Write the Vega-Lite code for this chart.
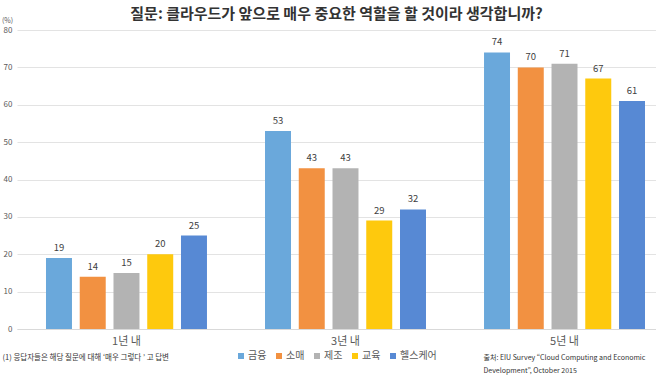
{
  "$schema": "https://vega.github.io/schema/vega-lite/v6.json",
  "width": 639,
  "height": 299,
  "autosize": {"type": "none"},
  "padding": {"left": 17, "top": 30, "right": 0, "bottom": 48},
  "background": "white",
  "config": {
    "font": "Noto Sans CJK KR",
    "view": {"stroke": null}
  },
  "title": {
    "text": "질문: 클라우드가 앞으로 매우 중요한 역할을 할 것이라 생각합니까?",
    "fontSize": 15,
    "fontWeight": "bold",
    "color": "#333333",
    "anchor": "middle",
    "offset": 4,
    "dy": 10
  },
  "data": {
    "values": [
      {"period": "1년 내", "industry": "금융", "value": 19},
      {"period": "1년 내", "industry": "소매", "value": 14},
      {"period": "1년 내", "industry": "제조", "value": 15},
      {"period": "1년 내", "industry": "교육", "value": 20},
      {"period": "1년 내", "industry": "헬스케어", "value": 25},
      {"period": "3년 내", "industry": "금융", "value": 53},
      {"period": "3년 내", "industry": "소매", "value": 43},
      {"period": "3년 내", "industry": "제조", "value": 43},
      {"period": "3년 내", "industry": "교육", "value": 29},
      {"period": "3년 내", "industry": "헬스케어", "value": 32},
      {"period": "5년 내", "industry": "금융", "value": 74},
      {"period": "5년 내", "industry": "소매", "value": 70},
      {"period": "5년 내", "industry": "제조", "value": 71},
      {"period": "5년 내", "industry": "교육", "value": 67},
      {"period": "5년 내", "industry": "헬스케어", "value": 61}
    ]
  },
  "encoding": {
    "y": {
      "field": "value",
      "type": "quantitative",
      "scale": {"domain": [0, 80], "nice": false},
      "axis": {
        "values": [0, 10, 20, 30, 40, 50, 60, 70, 80],
        "labelOverlap": false,
        "labelFontSize": 8,
        "labelColor": "#595959",
        "labelPadding": 5,
        "ticks": false,
        "domain": false,
        "gridColor": "#e3e3e3",
        "title": "(%)",
        "titleAngle": 0,
        "titleFontSize": 7,
        "titleFontWeight": "normal",
        "titleColor": "#595959",
        "titleAlign": "center",
        "titleBaseline": "middle",
        "titleX": -10,
        "titleY": -10
      }
    },
    "xOffset": {
      "field": "industry",
      "type": "nominal",
      "sort": ["금융", "소매", "제조", "교육", "헬스케어"],
      "scale": {"paddingInner": 0.23, "paddingOuter": 0}
    }
  },
  "layer": [
    {
      "mark": {"type": "bar"},
      "encoding": {
        "x": {
          "field": "period",
          "type": "nominal",
          "sort": ["1년 내", "3년 내", "5년 내"],
          "scale": {"paddingInner": 0.265, "paddingOuter": 0.0913, "align": 0.725},
          "axis": {
            "orient": "bottom",
            "labelAngle": 0,
            "labelFontSize": 11,
            "labelColor": "#595959",
            "labelPadding": 6,
            "ticks": false,
            "domainColor": "#d9d9d9",
            "grid": false,
            "title": ["출처: EIU Survey “Cloud Computing and Economic", "Development”, October 2015"],
            "titleFontSize": 7,
            "titleFontWeight": "normal",
            "titleColor": "#333333",
            "titleAlign": "left",
            "titleBaseline": "top",
            "titleAnchor": "start",
            "titleLineHeight": 13,
            "titleX": 466,
            "titleY": 24
          }
        },
        "color": {
          "field": "industry",
          "type": "nominal",
          "sort": ["금융", "소매", "제조", "교육", "헬스케어"],
          "scale": {
            "domain": ["금융", "소매", "제조", "교육", "헬스케어"],
            "range": ["#6aa8db", "#f29141", "#b3b3b3", "#fec90d", "#5789d4"]
          },
          "legend": {
            "orient": "none",
            "direction": "horizontal",
            "legendX": 219,
            "legendY": 321,
            "title": null,
            "padding": 0,
            "symbolType": "square",
            "symbolSize": 36,
            "symbolStrokeWidth": 0,
            "labelFontSize": 10,
            "labelColor": "#595959",
            "labelOffset": 2,
            "columnPadding": 7
          }
        }
      }
    },
    {
      "mark": {"type": "text", "baseline": "bottom", "dy": -5, "fontSize": 9.5, "color": "#404040"},
      "encoding": {
        "x": {
          "field": "period",
          "type": "nominal",
          "sort": ["1년 내", "3년 내", "5년 내"],
          "axis": {
            "orient": "top",
            "labels": false,
            "ticks": false,
            "domain": false,
            "grid": false,
            "title": "(1) 응답자들은 해당 질문에 대해 ‘매우 그렇다 ’ 고 답변",
            "titleFontSize": 7.5,
            "titleFontWeight": "normal",
            "titleColor": "#333333",
            "titleAlign": "left",
            "titleBaseline": "top",
            "titleAnchor": "start",
            "titleX": -15,
            "titleY": 323
          }
        },
        "text": {"field": "value", "type": "quantitative"}
      }
    }
  ],
  "resolve": {"axis": {"x": "independent"}}
}
